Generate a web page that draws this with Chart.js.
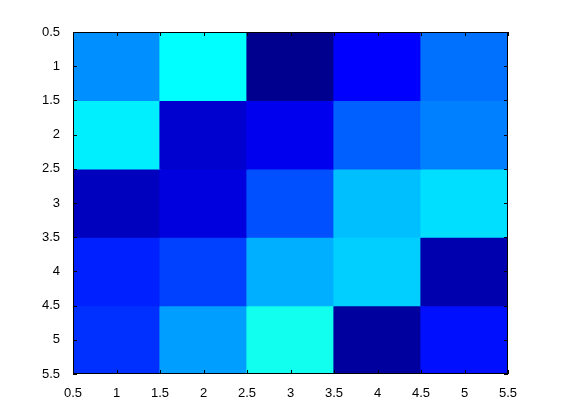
<!DOCTYPE html>
<html>
<head>
<meta charset="utf-8">
<script src="https://cdn.jsdelivr.net/npm/chart.js@4"></script>
<style>
  html, body { margin: 0; padding: 0; background: #fff; }
  #wrap { width: 561px; height: 420px; }
</style>
</head>
<body>
<div id="wrap"><canvas id="c" width="561" height="420"></canvas></div>
<script>
  // image(magic(5)) with the jet colormap, cell values per row
  var rows = [1, 2, 3, 4, 5];
  var cols = [1, 2, 3, 4, 5];
  var values = [
    [17, 24, 1, 8, 15],
    [23, 5, 7, 14, 16],
    [4, 6, 13, 20, 22],
    [10, 12, 19, 21, 3],
    [11, 18, 25, 2, 9]
  ];
  var tickValues = [0.5, 1, 1.5, 2, 2.5, 3, 3.5, 4, 4.5, 5, 5.5];

  // jet(64) row for a direct index
  function jet(v) {
    var u = function (k) {
      if (k < 1 || k > 47) return 0;
      if (k <= 16) return k / 16;
      if (k <= 31) return 1;
      return (48 - k) / 16;
    };
    var r = u(v - 24), g = u(v - 8), b = u(v + 8);
    return 'rgb(' + Math.round(r * 255) + ',' + Math.round(g * 255) + ',' + Math.round(b * 255) + ')';
  }

  var datasets = rows.map(function (r, i) {
    return {
      data: cols.map(function (c) { return { x: c, y: [r - 0.5, r + 0.5] }; }),
      backgroundColor: values[i].map(jet),
      borderWidth: 0,
      inflateAmount: 0.6,
      grouped: false,
      // ruler min is the 0.5 tick gap, so double it to fill one cell
      barPercentage: 1,
      categoryPercentage: 2
    };
  });

  // box round the plot plus inward ticks on all four sides
  var boxPlugin = {
    id: 'box',
    afterDraw: function (chart) {
      var ctx = chart.ctx, a = chart.chartArea;
      var xs = chart.scales.x, ys = chart.scales.y;
      var len = 4;
      ctx.save();
      ctx.strokeStyle = '#000';
      ctx.lineWidth = 1;
      ctx.beginPath();
      tickValues.forEach(function (t) {
        var px = Math.round(xs.getPixelForValue(t)) + 0.5;
        ctx.moveTo(px, a.bottom); ctx.lineTo(px, a.bottom - len);
        ctx.moveTo(px, a.top); ctx.lineTo(px, a.top + len);
        var py = Math.round(ys.getPixelForValue(t)) + 0.5;
        ctx.moveTo(a.left, py); ctx.lineTo(a.left + len, py);
        ctx.moveTo(a.right, py); ctx.lineTo(a.right - len, py);
      });
      ctx.stroke();
      ctx.strokeRect(Math.round(a.left) + 0.5, Math.round(a.top) + 0.5,
        Math.round(a.right - a.left) - 1, Math.round(a.bottom - a.top) - 1);
      ctx.restore();
    }
  };

  var tickFont = { family: 'Liberation Sans, Arial, sans-serif', size: 13 };
  var fmt = function (v) { return String(v); };

  new Chart(document.getElementById('c').getContext('2d'), {
    type: 'bar',
    data: { datasets: datasets },
    options: {
      responsive: false,
      animation: false,
      events: [],
      layout: { padding: { left: 0, right: 53, top: 32, bottom: 0 } },
      plugins: { legend: { display: false }, tooltip: { enabled: false } },
      scales: {
        x: {
          type: 'linear',
          min: 0.5, max: 5.5,
          offset: false,
          afterBuildTicks: function (s) { s.ticks = tickValues.map(function (v) { return { value: v }; }); },
          afterFit: function (s) { s.height = 46; },
          grid: { display: false },
          border: { display: false },
          ticks: { color: '#000', font: tickFont, padding: 4, maxRotation: 0, autoSkip: false, callback: fmt }
        },
        y: {
          type: 'linear',
          reverse: true,
          min: 0.5, max: 5.5,
          afterBuildTicks: function (s) { s.ticks = tickValues.map(function (v) { return { value: v }; }); },
          afterFit: function (s) { s.width = 73; },
          grid: { display: false },
          border: { display: false },
          ticks: { color: '#000', font: tickFont, padding: 5, autoSkip: false, callback: fmt }
        }
      }
    },
    plugins: [boxPlugin]
  });
</script>
</body>
</html>
